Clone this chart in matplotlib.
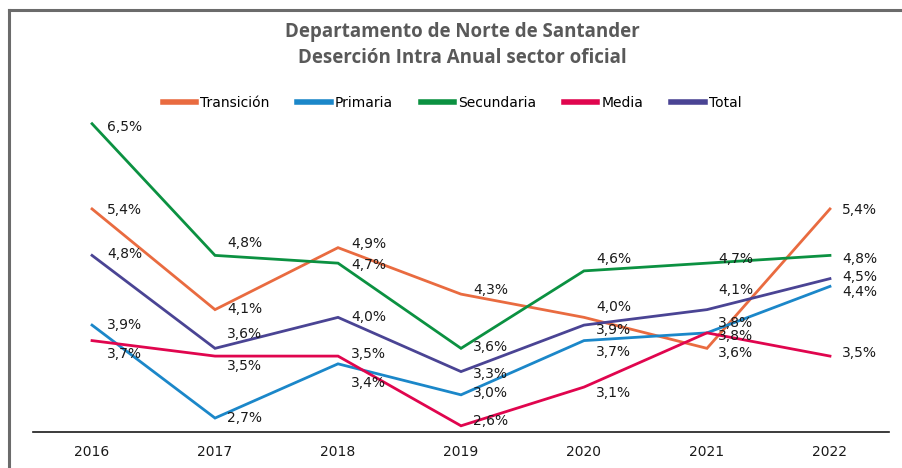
import matplotlib.pyplot as plt
from matplotlib.lines import Line2D

years = ["2016", "2017", "2018", "2019", "2020", "2021", "2022"]
transicion = [5.4, 4.1, 4.9, 4.3, 4.0, 3.6, 5.4]
primaria = [3.9, 2.7, 3.4, 3.0, 3.7, 3.8, 4.4]
secundaria = [6.5, 4.8, 4.7, 3.6, 4.6, 4.7, 4.8]
media = [3.7, 3.5, 3.5, 2.6, 3.1, 3.8, 3.5]
total = [4.8, 3.6, 4.0, 3.3, 3.9, 4.1, 4.5]

names = ["Transición", "Primaria", "Secundaria", "Media", "Total"]
series = [transicion, primaria, secundaria, media, total]
colors = ["#E96B40", "#1B87C9", "#0B9141", "#E0054E", "#4A4494"]

# vertical nudge of each value label, in pixels (up = positive)
label_dy = [
    [-1, 1, 4, 4, 10, -5, -1],
    [0, 0, -19, 2, -11, 10, -6],
    [-3, 12, -2, 1, 12, 4, -4],
    [-13, -10, 2, 5, -6, -3, 3],
    [1, 14, 0, -2, -5, 20, 2],
]
label_dx = [15, 12, 13, 12, 12, 11, 12]

plt.rcParams["font.family"] = ["DejaVu Sans"]

W, H = 902, 468
fig = plt.figure(figsize=(W / 100, H / 100), dpi=100)
ax = fig.add_axes([33 / W, (H - 432) / H, (889 - 33) / W, (432 - 85) / H])

x = list(range(len(years)))
for name, vals, col, dys in zip(names, series, colors, label_dy):
    ax.plot(x, vals, color=col, lw=2, label=name, solid_joinstyle="miter")
    for i, (v, dy) in enumerate(zip(vals, dys)):
        ax.annotate(f"{v:.1f}%".replace(".", ","), (i, v),
                    xytext=(label_dx[i] * 0.72, dy * 0.72), textcoords="offset points",
                    ha="left", va="center", fontsize=10, color="#1a1a1a")

ax.set_xlim(-0.48, 6.48)
ax.set_ylim(2.52, 7.0)
ax.set_xticks(x)
ax.set_xticklabels(years, fontsize=10, color="#1a1a1a")
ax.set_yticks([])
ax.tick_params(axis="x", length=0, pad=9)
for s in ["top", "right", "left"]:
    ax.spines[s].set_visible(False)
ax.spines["bottom"].set_color("#1a1a1a")
ax.spines["bottom"].set_linewidth(1.2)

fig.text(462 / W, 1 - 32 / H, "Departamento de Norte de Santander", ha="center",
         va="center", fontsize=13.5, fontweight="bold", color="#595959", family="Open Sans")
fig.text(462 / W, 1 - 58 / H, "Deserción Intra Anual sector oficial", ha="center",
         va="center", fontsize=13.5, fontweight="bold", color="#595959", family="Open Sans")

fig.legend(loc="center", bbox_to_anchor=(452 / W, 1 - 103 / H), ncol=5, frameon=False,
           fontsize=10, handlelength=2.4, handletextpad=0.3, columnspacing=2.0)
for leg_line in fig.legends[0].get_lines():
    leg_line.set_linewidth(4)

# frame of the original slide
fig.add_artist(Line2D([8.5 / W, 1], [1 - 9.5 / H] * 2, color="#6b6b6b", lw=2.2))
fig.add_artist(Line2D([8.5 / W] * 2, [0, 1 - 9.5 / H], color="#6b6b6b", lw=2.2))

fig.savefig("out.png", dpi=100)
